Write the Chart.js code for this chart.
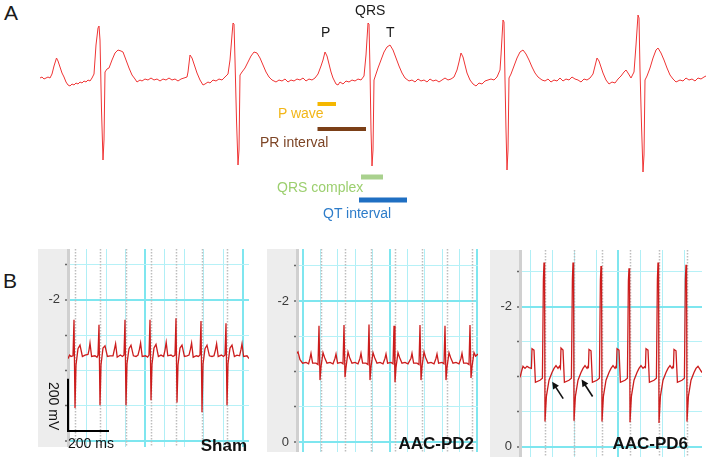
<!DOCTYPE html>
<html>
<head>
<meta charset="utf-8">
<script src="https://cdn.jsdelivr.net/npm/chart.js@4.4.1/dist/chart.umd.min.js"></script>
<style>
  body { margin: 0; background: #fff; width: 709px; height: 465px; position: relative; overflow: hidden;
         font-family: Arial, "Liberation Sans", sans-serif; }
  canvas { position: absolute; }
  .t { position: absolute; white-space: nowrap; line-height: 1; color: #1a1a1a; }
  .b { font-weight: bold; font-size: 17px; color: #111; }
</style>
</head>
<body>
<canvas id="ecgA" width="669" height="230" style="left:40px;top:0px"></canvas>
<canvas id="ecgSham" width="211" height="198" style="left:38px;top:249px"></canvas>
<canvas id="ecgPd2" width="211" height="203" style="left:267px;top:249px"></canvas>
<canvas id="ecgPd6" width="212" height="207" style="left:490px;top:250px"></canvas>

<div class="t" style="left:4px;top:2px;font-size:21px">A</div>
<div class="t" style="left:3px;top:270px;font-size:21px">B</div>
<div class="t" style="left:355px;top:3px;font-size:14px">QRS</div>
<div class="t" style="left:321px;top:25px;font-size:14px">P</div>
<div class="t" style="left:386px;top:25px;font-size:14px">T</div>
<div class="t" style="left:278px;top:106px;font-size:14px;color:#f2b619">P wave</div>
<div class="t" style="left:260px;top:135px;font-size:14px;color:#7d4526">PR interval</div>
<div class="t" style="left:277px;top:180px;font-size:14px;color:#9ccf6f">QRS complex</div>
<div class="t" style="left:323px;top:206px;font-size:14px;color:#2d7cc9">QT interval</div>
<div class="t" style="left:68px;top:436px;font-size:14px;color:#111">200 ms</div>
<div class="t" style="left:30px;top:399px;width:48px;font-size:14px;color:#111;transform:rotate(90deg)">200 mV</div>
<div class="t b" style="right:462px;top:437px">Sham</div>
<div class="t b" style="right:235px;top:435px">AAC-PD2</div>
<div class="t b" style="right:21px;top:435px">AAC-PD6</div>

<script>
// Panel A: one lead of a surface ECG, [time ms, mV]
const ecgA = [
  [80,0.02],[84,0.03],[88,0.01],[92,0.02],[96,0.03],[100,0.02],[104,0.06],[108,0.14],[113,0.22],[116,0.19],
  [120,0.13],[124,0.07],[128,0.03],[132,-0.02],[136,-0.05],[140,-0.06],[144,-0.04],[148,-0.05],[152,-0.03],
  [156,-0.04],[160,-0.02],[164,-0.03],[168,-0.01],[172,-0.02],[176,0],[180,-0.01],[184,0.02],[188,0.06],
  [192,0.35],[196,0.52],[198,0.54],[200,0.4],[203,-0.3],[206,-0.8],[208,-0.6],[210,0.08],[214,0.11],[218,0.12],
  [224,0.2],[230,0.27],[236,0.3],[242,0.29],[246,0.28],[252,0.2],[258,0.12],[264,0.05],[270,0.01],[274,-0.02],
  [280,0],[284,-0.01],[290,0.01],[296,0],[302,0.02],[308,0],[314,0.01],[320,-0.01],[326,0.01],[332,0],
  [338,0.02],[344,0],[350,0.01],[356,-0.01],[362,0.01],[368,0.02],[374,0.03],
  [376,0.08],[380,0.25],[384,0.22],[388,0.16],[394,0.07],[400,0],[406,-0.05],[410,-0.04],[416,-0.02],
  [420,-0.03],[426,0],[432,-0.01],[438,0.01],[444,0],[450,0.03],[456,0.06],[460,0.2],[464,0.45],[466,0.57],
  [468,0.56],[470,0.2],[473,-0.4],[476,-0.85],[478,-0.7],[480,0.05],[484,0.08],[490,0.12],[496,0.18],
  [502,0.24],[508,0.28],[514,0.27],[520,0.22],[526,0.15],[532,0.08],[538,0.03],[544,0],[552,-0.02],[558,0],
  [564,-0.01],[570,0.01],[576,-0.02],[582,0],[588,-0.01],[594,0.01],[600,0],[606,0.02],[612,-0.01],
  [618,0.01],[624,0],[630,0.02],[636,0.06],[642,0.14],
  [646,0.2],[650,0.28],[654,0.24],[658,0.16],[662,0.08],[666,0.02],[672,-0.04],[676,-0.05],[680,-0.02],
  [686,-0.04],[692,-0.01],[698,-0.02],[704,0],[710,-0.01],[716,0.01],[722,0],[728,0.04],[732,0.25],
  [736,0.57],[738,0.56],[740,0.1],[742,-0.5],[744,-0.86],[746,-0.7],[748,0],[752,0.06],[756,0.12],
  [762,0.2],[768,0.28],[774,0.33],[780,0.35],[786,0.3],[792,0.22],[798,0.14],[804,0.07],[810,0.02],
  [818,-0.01],[824,0],[830,-0.02],[836,0.01],[842,-0.01],[848,0],[854,-0.02],[860,0.01],[866,-0.01],
  [872,0],[878,-0.02],[884,0],[890,0.02],[896,0],[902,0.01],[908,0.03],[914,0.1],
  [918,0.18],[922,0.27],[926,0.23],[930,0.15],[934,0.07],[940,0],[946,-0.04],[952,-0.06],[958,-0.03],
  [964,-0.04],[970,-0.01],[976,0],[982,0.01],[988,0],[994,0.03],[1000,0.1],[1002,0.25],[1006,0.6],
  [1008,0.58],[1010,0],[1012,-0.5],[1014,-0.9],[1016,-0.7],[1018,0.02],[1022,0.06],[1028,0.14],
  [1034,0.22],[1040,0.28],[1046,0.3],[1052,0.26],[1058,0.2],[1064,0.13],[1070,0.07],[1076,0.03],
  [1084,0],[1090,-0.01],[1096,0.01],[1102,-0.02],[1108,0],[1114,-0.01],[1120,0.02],[1126,-0.01],
  [1132,0.01],[1138,0],[1144,0.03],[1150,0.01],[1156,0],[1162,-0.02],[1168,0.01],[1174,0],[1180,0.02],
  [1186,0.06],
  [1190,0.14],[1194,0.22],[1198,0.19],[1202,0.13],[1206,0.07],[1212,0],[1218,-0.04],[1224,-0.02],
  [1230,-0.03],[1236,0.01],[1242,0.04],[1248,0.08],[1252,0.1],[1256,0.07],[1262,0.02],[1268,0.08],
  [1272,0.35],[1276,0.65],[1278,0.62],[1280,0.1],[1283,-0.45],[1286,-0.92],[1288,-0.75],[1290,0],
  [1294,0.04],[1300,0.12],[1306,0.22],[1312,0.3],[1316,0.32],[1322,0.27],[1328,0.2],[1334,0.12],
  [1340,0.05],[1346,0.01],[1352,-0.02],[1360,0],[1366,-0.01],[1372,0.02],[1378,0],[1384,0.01],
  [1390,-0.01],[1396,0.02],[1402,0.01],[1408,0.03],[1412,0.04]
];

// intervals marked under the third beat (ms)
const intervalNames = ['P wave', 'PR interval', 'QRS complex', 'QT interval'];
const intervalStart = [635, 635, 722, 718];
const intervalEnd = [672, 732, 766, 814];

// Panel B: three recordings, [time ms, axis value]
const panelNames = ['Sham', 'AAC-PD2', 'AAC-PD6'];
const shamTrace = [
  [0,-1.17],[8,-1.22],[15,-1.2],[25,-1.21],[30,-1.72],[35,-0.47],[40,-1.08],[50,-1.31],[60,-1.36],[72,-1.2],[85,-1.22],
  [100,-1.23],[105,-1.29],[110,-1.39],[118,-1.2],[135,-1.21],[145,-1.19],[150,-1.22],
  [155,-1.65],[160,-0.51],[165,-1.08],[175,-1.32],[185,-1.35],[197,-1.2],[210,-1.21],
  [225,-1.21],[232,-1.3],[238,-1.38],[246,-1.19],[262,-1.22],[272,-1.2],[280,-1.22],
  [285,-1.72],[290,-0.51],[295,-1.1],[305,-1.31],[315,-1.36],[327,-1.21],[340,-1.2],
  [350,-1.22],[357,-1.3],[363,-1.39],[371,-1.2],[388,-1.21],[398,-1.19],[405,-1.22],
  [410,-1.72],[415,-0.58],[420,-1.09],[430,-1.32],[440,-1.37],[452,-1.2],[465,-1.22],
  [478,-1.2],[485,-1.29],[491,-1.4],[499,-1.21],[515,-1.22],[525,-1.2],[535,-1.22],
  [540,-1.74],[545,-0.55],[550,-1.08],[560,-1.32],[570,-1.36],[582,-1.2],[595,-1.21],
  [605,-1.22],[612,-1.3],[618,-1.39],[626,-1.19],[642,-1.21],[652,-1.2],[660,-1.22],
  [665,-1.7],[670,-0.41],[675,-1.09],[685,-1.31],[695,-1.36],[707,-1.21],[720,-1.2],
  [730,-1.21],[737,-1.29],[743,-1.38],[751,-1.2],[767,-1.22],[777,-1.2],[785,-1.22],
  [790,-1.67],[795,-0.51],[800,-1.1],[810,-1.32],[820,-1.36],[832,-1.2],[845,-1.22],
  [858,-1.21],[865,-1.3],[870,-1.38],[878,-1.2],[895,-1.21],[905,-1.17]
];
const pd2Trace = [
  [0,-1.26],[5,-1.28],[15,-1.17],[28,-1.12],[45,-1.13],[58,-1.11],
  [65,-1.19],[70,-1.26],[78,-1.12],[95,-1.12],[105,-1.1],
  [110,-1.65],[115,-0.88],[120,-1.07],[130,-1.27],[138,-1.2],[150,-1.12],[165,-1.13],[180,-1.11],
  [190,-1.19],[195,-1.25],[203,-1.12],[220,-1.13],[230,-1.11],
  [235,-1.66],[240,-0.92],[245,-1.06],[255,-1.28],[263,-1.2],[275,-1.12],[290,-1.13],[305,-1.11],
  [315,-1.19],[320,-1.26],[328,-1.12],[345,-1.12],[355,-1.1],
  [360,-1.67],[365,-0.88],[370,-1.07],[380,-1.27],[388,-1.2],[400,-1.12],[415,-1.13],[430,-1.11],
  [440,-1.19],[445,-1.25],[453,-1.12],[470,-1.13],[480,-1.11],
  [485,-1.65],[490,-0.85],[495,-1.06],[505,-1.27],[513,-1.2],[525,-1.12],[540,-1.13],[555,-1.11],
  [570,-1.19],[575,-1.26],[583,-1.12],[600,-1.12],[610,-1.1],
  [615,-1.66],[620,-0.88],[625,-1.07],[635,-1.28],[643,-1.2],[655,-1.12],[670,-1.13],[685,-1.11],
  [695,-1.19],[700,-1.25],[708,-1.12],[725,-1.13],[735,-1.11],
  [740,-1.65],[745,-0.88],[750,-1.06],[760,-1.27],[768,-1.2],[780,-1.12],[795,-1.13],[810,-1.11],
  [820,-1.19],[825,-1.26],[833,-1.12],[850,-1.12],[860,-1.1],
  [865,-1.66],[870,-0.91],[875,-1.07],[885,-1.27],[893,-1.22],[905,-1.25]
];
const pd6Trace = [
  [0,-0.99],[8,-1.08],[15,-1.15],[25,-1.12],[35,-1.15],[45,-1.13],[57,-1.12],[60,-1.4],[70,-1.38],[77,-0.92],
  [100,-0.95],[112,-0.98],[117,-2.39],[120,-2.63],[123,-2.42],[125,-0.36],[132,-0.72],[145,-0.95],[160,-1.06],
  [170,-1.12],[180,-1.16],[190,-1.12],[197,-1.15],
  [202,-1.12],[205,-1.41],[215,-1.38],[222,-0.92],[245,-0.95],[257,-0.98],[262,-2.39],[265,-2.63],[268,-2.41],
  [270,-0.37],[277,-0.72],[290,-0.95],[305,-1.06],[315,-1.12],[325,-1.16],[335,-1.12],[340,-1.15],
  [342,-1.12],[345,-1.39],[355,-1.37],[362,-0.92],[385,-0.95],[397,-0.98],[402,-2.38],[405,-2.58],[408,-2.4],
  [410,-0.36],[417,-0.72],[430,-0.95],[445,-1.06],[455,-1.12],[465,-1.16],[475,-1.12],[480,-1.15],
  [482,-1.12],[485,-1.4],[495,-1.38],[502,-0.92],[525,-0.95],[537,-0.98],[542,-2.37],[545,-2.55],[548,-2.4],
  [550,-0.35],[557,-0.72],[570,-0.95],[585,-1.06],[595,-1.12],[605,-1.16],[615,-1.12],[625,-1.15],
  [627,-1.12],[630,-1.4],[640,-1.38],[647,-0.92],[670,-0.95],[682,-0.98],[687,-2.39],[690,-2.63],[693,-2.41],
  [695,-0.34],[702,-0.72],[715,-0.95],[730,-1.06],[740,-1.12],[750,-1.16],[760,-1.12],[765,-1.15],
  [767,-1.12],[770,-1.39],[780,-1.37],[787,-0.92],[810,-0.95],[822,-0.98],[827,-2.39],[830,-2.6],[833,-2.42],
  [835,-0.36],[842,-0.72],[855,-0.95],[870,-1.06],[880,-1.12],[890,-1.15],[910,-1.06]
];
// beat markers drawn by the recording software (ms)
const shamBeats = [35, 160, 290, 415, 540, 670, 795];
const pd2Beats = [120, 240, 370, 490, 625, 750, 875];
const pd6Beats = [125, 270, 410, 550, 695, 835];
// points the arrows aim at in AAC-PD6
const pd6Arrows = [[161, -0.93], [308, -0.96]];
// calibration bar: 200 ms by 200 mV
const scaleBar = [[0, -0.87], [0, -0.146], [200, -0.146]];
const yTicks = [-2.5, -2, -1.5, -1, -0.5, 0];
const yMajor = [-2, 0];

const FONT = 'Arial, "Liberation Sans", sans-serif';
const toXY = arr => arr.map(([x, y]) => ({x, y}));

// ---- panel A ----
const intervalColors = ['#f5b700', '#7b3f17', '#a9d18e', '#1f6fc2'];
const intervalRow = [-0.24, -0.49, -0.97, -1.2];

const datasetsA = [{
  data: toXY(ecgA), borderColor: '#ef3434', borderWidth: 1, pointRadius: 0, tension: 0
}];
intervalNames.forEach((name, i) => {
  datasetsA.push({
    label: name,
    data: [{x: intervalStart[i], y: intervalRow[i]}, {x: intervalEnd[i], y: intervalRow[i]}],
    borderColor: intervalColors[i], borderWidth: i < 2 ? 4 : 5, borderCapStyle: 'butt', pointRadius: 0
  });
});

new Chart(document.getElementById('ecgA'), {
  type: 'line',
  data: { datasets: datasetsA },
  options: {
    responsive: false, animation: false, devicePixelRatio: 1,
    layout: { padding: 0 },
    plugins: { legend: { display: false }, tooltip: { enabled: false } },
    scales: {
      x: { type: 'linear', min: 80, max: 1418, display: false },
      y: { min: -1.5, max: 0.8, display: false }
    }
  }
});

// ---- panel B ----
const stripPlugin = {
  id: 'strip',
  beforeDraw(chart) {
    const {ctx, chartArea} = chart;
    ctx.save();
    ctx.fillStyle = '#ededed';
    ctx.fillRect(0, 0, chartArea.left, chart.height);
    ctx.restore();
  }
};

const marksPlugin = {
  id: 'marks',
  beforeDatasetsDraw(chart, args, opts) {
    const {ctx, chartArea: a, scales: {x}} = chart;
    ctx.save();
    ctx.strokeStyle = '#bdbdbd';
    ctx.lineWidth = 1.5;
    ctx.setLineDash([1.5, 1.5]);
    opts.beats.forEach(t => {
      const px = Math.round(x.getPixelForValue(t)) + 0.5;
      ctx.beginPath();
      ctx.moveTo(px, a.top);
      ctx.lineTo(px, a.bottom);
      ctx.stroke();
    });
    ctx.restore();
  },
  afterDatasetsDraw(chart, args, opts) {
    const {ctx, scales: {x, y}} = chart;
    ctx.save();
    ctx.strokeStyle = '#111';
    ctx.fillStyle = '#111';
    ctx.lineWidth = 1.6;
    (opts.arrows || []).forEach(([t, v]) => {
      const hx = x.getPixelForValue(t), hy = y.getPixelForValue(v);
      const tx = hx + 11, ty = hy + 17;
      const len = Math.hypot(tx - hx, ty - hy);
      const ux = (hx - tx) / len, uy = (hy - ty) / len;
      ctx.beginPath();
      ctx.moveTo(tx, ty);
      ctx.lineTo(hx - ux * 5, hy - uy * 5);
      ctx.stroke();
      ctx.beginPath();
      ctx.moveTo(hx, hy);
      ctx.lineTo(hx - ux * 7 - uy * 3.5, hy - uy * 7 + ux * 3.5);
      ctx.lineTo(hx - ux * 7 + uy * 3.5, hy - uy * 7 - ux * 3.5);
      ctx.closePath();
      ctx.fill();
    });
    ctx.restore();
  }
};

function ecgPanel(id, trace, cfg) {
  const grid = [];
  for (let t = cfg.gridStart; t <= cfg.xMax; t += cfg.gridStep) grid.push(t);
  const isMajor = i => ((i - cfg.major) % 5 + 5) % 5 === 0;
  const datasets = [{
    data: toXY(trace), borderColor: '#cc1d1d', borderWidth: 1.3, pointRadius: 0, tension: 0
  }];
  if (cfg.scaleBar) {
    datasets.push({
      data: toXY(cfg.scaleBar), borderColor: '#000', borderWidth: 2, pointRadius: 0,
      borderCapStyle: 'square', clip: false
    });
  }
  return new Chart(document.getElementById(id), {
    type: 'line',
    data: { datasets },
    options: {
      responsive: false, animation: false, devicePixelRatio: 1,
      layout: { padding: 0 },
      plugins: {
        legend: { display: false }, tooltip: { enabled: false },
        marks: { beats: cfg.beats, arrows: cfg.arrows }
      },
      scales: {
        x: {
          type: 'linear', min: 0, max: cfg.xMax,
          afterBuildTicks: s => { s.ticks = grid.map(v => ({value: v})); },
          afterFit: s => { s.height = 0; s.paddingLeft = 0; s.paddingRight = 0; },
          ticks: { display: false },
          grid: {
            drawTicks: false,
            color: c => isMajor(c.index) ? '#7fe6ef' : '#b0eff6',
            lineWidth: c => isMajor(c.index) ? 2 : 1
          },
          border: { display: false }
        },
        y: {
          reverse: true, min: cfg.yMin, max: cfg.yMax,
          afterBuildTicks: s => { s.ticks = yTicks.map(v => ({value: v})); },
          afterFit: s => { s.width = 30; s.paddingTop = 0; s.paddingBottom = 0; },
          ticks: {
            autoSkip: false, padding: 5, color: '#3a3a3a',
            font: { family: FONT, size: 13 },
            callback: v => cfg.labels.includes(v) ? String(v) : ''
          },
          grid: {
            color: c => yMajor.includes(c.tick.value) ? '#7ee6ef' : '#b6f1f7',
            lineWidth: c => yMajor.includes(c.tick.value) ? 2 : 1,
            tickLength: 3, tickColor: '#666', tickWidth: 1.5
          },
          border: { display: true, color: '#d0d0d0', width: 3 }
        }
      }
    },
    plugins: [stripPlugin, marksPlugin]
  });
}

ecgPanel('ecgSham', shamTrace, {
  xMax: 905, yMin: -2.72, yMax: 0.08, labels: [-2],
  gridStart: 93, gridStep: 97.5, major: 3, beats: shamBeats, scaleBar: scaleBar
});
ecgPanel('ecgPd2', pd2Trace, {
  xMax: 905, yMin: -2.74, yMax: 0.14, labels: [-2, 0],
  gridStart: 30, gridStep: 87, major: 5, beats: pd2Beats
});
ecgPanel('ecgPd6', pd6Trace, {
  xMax: 910, yMin: -2.81, yMax: 0.146, labels: [-2, 0],
  gridStart: 50, gridStep: 110, major: 4, beats: pd6Beats, arrows: pd6Arrows
});
</script>
</body>
</html>
